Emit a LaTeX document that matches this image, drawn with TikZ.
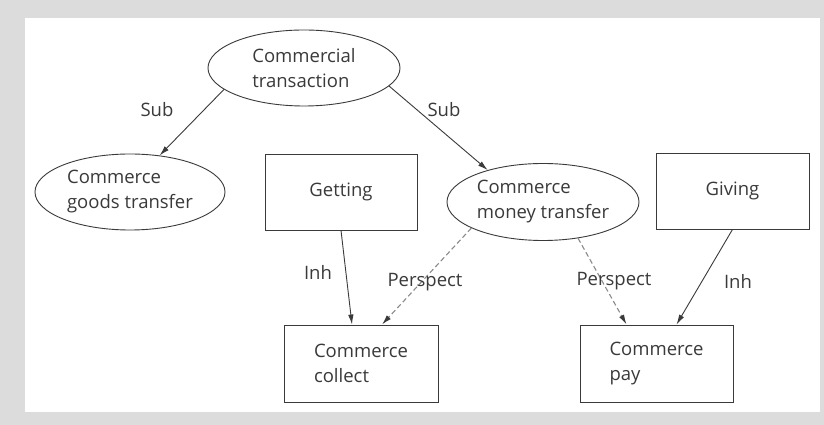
\documentclass[tikz,border=0pt]{standalone}
\usepackage{fontspec}
\setmainfont{Open Sans}
\usetikzlibrary{shapes.geometric,arrows.meta,calc}
\definecolor{frame}{HTML}{DCDCDC}
\definecolor{ink}{HTML}{3A3A3A}
\definecolor{dash}{HTML}{8A8A8A}
\begin{document}
\begin{tikzpicture}[x=1pt,y=1pt,
  every node/.style={font=\fontsize{18.5}{25}\selectfont, text=ink},
  ell/.style={draw=ink, line width=0.9pt, ellipse, inner sep=0pt, align=left},
  box/.style={draw=ink, line width=0.9pt, rectangle, inner sep=0pt, align=left},
  rel/.style={draw=ink, line width=0.9pt, -{Latex[length=10pt,width=5.5pt]}},
  persp/.style={draw=dash, line width=1.1pt, dash pattern=on 5pt off 3pt, -{Latex[length=10pt,width=5.5pt,color=ink]}},
  lbl/.style={inner sep=0pt}]
\useasboundingbox (0,0) rectangle (824,425);
\fill[frame] (0,0) rectangle (824,425);
\fill[white] (25,13) rectangle (820,407);
\node[ell, minimum width=192, minimum height=76] (ct) at (304,357) {Commercial\\transaction};
\node[ell, minimum width=190, minimum height=76] (gt) at (130,233) {Commerce\\goods transfer};
\node[ell, minimum width=192, minimum height=77] (mt) at (543,223) {Commerce\\money transfer};
\node[box, minimum width=152, minimum height=76] (gg) at (341,233) {Getting};
\node[box, minimum width=153, minimum height=76] (gv) at (732.5,234) {Giving};
\node[box, minimum width=154, minimum height=77] (cc) at (361,61.5) {Commerce\\collect};
\node[box, minimum width=153, minimum height=77] (cp) at (656.5,61.5) {Commerce\\pay};
\draw[rel] (ct.195) -- (gt.51);
\draw[rel] (ct.348) -- (mt.150);
\draw[rel] (gg.south) -- ([xshift=-9pt]cc.north);
\draw[rel] (gv.south) -- ([xshift=20pt]cp.north);
\draw[persp] (mt.200) -- ([xshift=21pt]cc.north);
\draw[persp] (mt.314) -- ([xshift=-30pt]cp.north);
\node[lbl] (l1) at (157,315) {Sub};
\node[lbl] (l2) at (444,315) {Sub};
\node[lbl] (l3) at (318,153) {Inh};
\node[lbl] (l4) at (425,143) {Perspect};
\node[lbl] (l5) at (614,144) {Perspect};
\node[lbl] (l6) at (738,144) {Inh};
\end{tikzpicture}
\end{document}
